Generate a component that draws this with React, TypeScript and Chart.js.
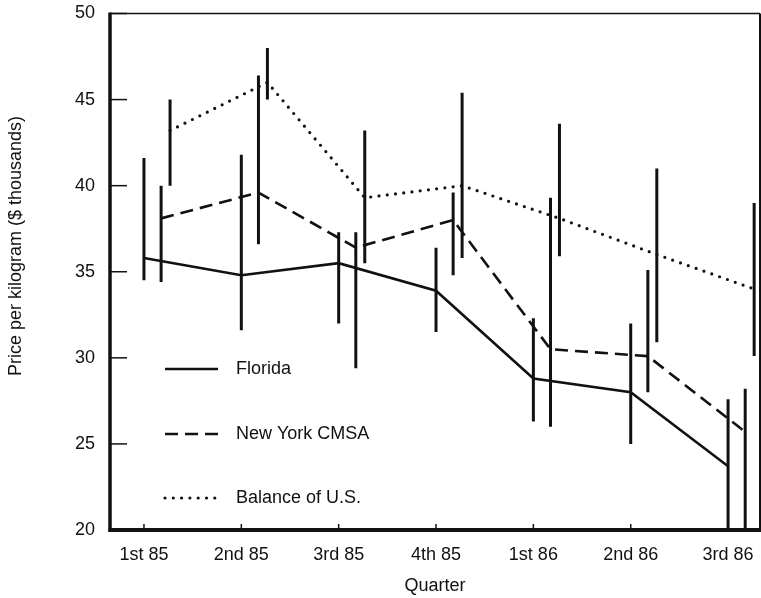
import React, { useEffect, useRef } from 'react';
import { Chart, registerables } from 'chart.js';

Chart.register(...registerables);

// ---- data ----
const quarters = ['1st 85', '2nd 85', '3rd 85', '4th 85', '1st 86', '2nd 86', '3rd 86'];
const seriesNames = ['Florida', 'New York CMSA', 'Balance of U.S.'];

const floridaValues = [35.8, 34.8, 35.5, 33.9, 28.8, 28.0, 23.7];
const floridaLow = [34.5, 31.6, 32.0, 31.5, 26.3, 25.0, 20.0];
const floridaHigh = [41.6, 41.8, 37.3, 36.4, 32.3, 32.0, 27.6];

const newYorkValues = [38.1, 39.6, 36.4, 38.0, 30.5, 30.1, 25.7];
const newYorkLow = [34.4, 36.6, 29.4, 34.8, 26.0, 28.0, 20.0];
const newYorkHigh = [40.0, 46.4, 37.3, 39.6, 39.3, 35.1, 28.2];

const balanceValues = [43.2, 46.0, 39.3, 40.0, 38.1, 36.0, 34.0];
const balanceLow = [40.0, 45.0, 35.5, 35.8, 35.9, 30.9, 30.1];
const balanceHigh = [45.0, 48.0, 43.2, 45.4, 43.6, 41.0, 39.0];

const yTicks = [20, 25, 30, 35, 40, 45, 50];
const yTitle = 'Price per kilogram ($ thousands)';
const xTitle = 'Quarter';

// ---- styling ----
const FONT = "'Liberation Sans', Arial, Helvetica, sans-serif";
const FONT_SIZE = 18;
const INK = '#111111';
const seriesOffsets = [0, 0.176, 0.268];
const seriesDash = [[], [13, 7], [0, 8.3]];
const seriesWidth = [2.6, 2.6, 3.2];

const seriesValues = [floridaValues, newYorkValues, balanceValues];
const seriesLow = [floridaLow, newYorkLow, balanceLow];
const seriesHigh = [floridaHigh, newYorkHigh, balanceHigh];

const decorPlugin = {
  id: 'decor',
  afterDatasetsDraw(chart: any) {
    const { ctx, chartArea, scales } = chart;
    const xs = scales.x;
    const ys = scales.y;
    const { left, right, top, bottom } = chartArea;

    // error bars
    ctx.save();
    ctx.beginPath();
    ctx.rect(left, top, right - left, bottom - top);
    ctx.clip();
    ctx.strokeStyle = INK;
    ctx.lineWidth = 3;
    ctx.lineCap = 'butt';
    ctx.setLineDash([]);
    seriesValues.forEach((vals, s) => {
      vals.forEach((_, i) => {
        const x = xs.getPixelForValue(i + seriesOffsets[s]);
        ctx.beginPath();
        ctx.moveTo(x, ys.getPixelForValue(seriesLow[s][i]));
        ctx.lineTo(x, ys.getPixelForValue(seriesHigh[s][i]));
        ctx.stroke();
      });
    });
    ctx.restore();

    // frame
    ctx.save();
    ctx.strokeStyle = INK;
    ctx.setLineDash([]);
    ctx.lineCap = 'butt';
    ctx.lineWidth = 1.5;
    ctx.beginPath();
    ctx.moveTo(left, top);
    ctx.lineTo(right, top);
    ctx.stroke();
    ctx.lineWidth = 2;
    ctx.beginPath();
    ctx.moveTo(right, top);
    ctx.lineTo(right, bottom);
    ctx.stroke();
    ctx.lineWidth = 3.5;
    ctx.beginPath();
    ctx.moveTo(left, top - 1);
    ctx.lineTo(left, bottom + 2);
    ctx.stroke();
    ctx.lineWidth = 4;
    ctx.beginPath();
    ctx.moveTo(left - 1.5, bottom);
    ctx.lineTo(right + 1, bottom);
    ctx.stroke();

    // inward ticks
    ctx.lineWidth = 1.5;
    yTicks.forEach((v) => {
      if (v === yTicks[0]) return;
      const y = ys.getPixelForValue(v);
      ctx.beginPath();
      ctx.moveTo(left, y);
      ctx.lineTo(left + 17, y);
      ctx.stroke();
    });
    quarters.forEach((_, i) => {
      const x = xs.getPixelForValue(i);
      ctx.beginPath();
      ctx.moveTo(x, bottom);
      ctx.lineTo(x, bottom - 6);
      ctx.stroke();
    });

    // legend
    const legendY = [369, 434, 498];
    seriesNames.forEach((name, s) => {
      const y = legendY[s];
      ctx.save();
      ctx.lineWidth = seriesWidth[s];
      ctx.setLineDash(seriesDash[s]);
      ctx.lineCap = s === 2 ? 'round' : 'butt';
      ctx.beginPath();
      ctx.moveTo(left + 55, y);
      ctx.lineTo(left + 108, y);
      ctx.stroke();
      ctx.restore();
      ctx.fillStyle = INK;
      ctx.font = `${FONT_SIZE}px ${FONT}`;
      ctx.textAlign = 'left';
      ctx.textBaseline = 'middle';
      ctx.fillText(name, left + 126, y);
    });

    // y-axis title
    ctx.save();
    ctx.translate(16, 246);
    ctx.rotate(-Math.PI / 2);
    ctx.fillStyle = INK;
    ctx.font = `${FONT_SIZE}px ${FONT}`;
    ctx.textAlign = 'center';
    ctx.textBaseline = 'middle';
    ctx.fillText(yTitle, 0, 0);
    ctx.restore();
    ctx.restore();
  },
};

export default function App() {
  const canvasRef = useRef<HTMLCanvasElement | null>(null);

  useEffect(() => {
    const canvas = canvasRef.current;
    if (!canvas) return;
    const datasets = seriesNames.map((name, s) => ({
      label: name,
      data: seriesValues[s].map((v, i) => ({ x: i + seriesOffsets[s], y: v })),
      borderColor: INK,
      backgroundColor: INK,
      borderWidth: seriesWidth[s],
      borderDash: seriesDash[s],
      borderCapStyle: s === 2 ? 'round' : 'butt',
      pointRadius: 0,
      pointHoverRadius: 0,
      tension: 0,
      fill: false,
    }));

    const chart = new Chart(canvas, {
      type: 'line',
      data: { datasets } as any,
      options: {
        animation: false,
        responsive: false,
        maintainAspectRatio: false,
        events: [],
        layout: { padding: { top: 13.5, right: 1, left: 0, bottom: 0 } },
        plugins: {
          legend: { display: false },
          tooltip: { enabled: false },
        },
        scales: {
          x: {
            type: 'linear',
            min: -0.349,
            max: 6.328,
            grid: { display: false, drawTicks: false },
            border: { display: false },
            afterBuildTicks: (scale: any) => {
              scale.ticks = quarters.map((_, i) => ({ value: i }));
            },
            afterFit: (scale: any) => {
              scale.height = 68;
              scale.paddingLeft = 0;
              scale.paddingRight = 0;
            },
            ticks: {
              padding: 14,
              autoSkip: false,
              maxRotation: 0,
              color: INK,
              font: { family: FONT, size: FONT_SIZE },
              callback: (v: any) => quarters[Math.round(Number(v))] ?? '',
            },
            title: {
              display: true,
              text: xTitle,
              color: INK,
              font: { family: FONT, size: FONT_SIZE },
              padding: { top: 0, bottom: 1 },
            },
          },
          y: {
            type: 'linear',
            min: 20,
            max: 50,
            grid: { display: false, drawTicks: false },
            border: { display: false },
            afterBuildTicks: (scale: any) => {
              scale.ticks = yTicks.map((v) => ({ value: v }));
            },
            afterFit: (scale: any) => {
              scale.width = 110;
              scale.paddingTop = 0;
              scale.paddingBottom = 0;
            },
            ticks: {
              padding: 15,
              color: INK,
              font: { family: FONT, size: FONT_SIZE },
            },
          },
        },
      } as any,
      plugins: [decorPlugin],
    });
    return () => chart.destroy();
  }, []);

  return (
    <div style={{ position: 'absolute', left: 0, top: 0, width: 761, height: 598, background: '#fff' }}>
      <canvas ref={canvasRef} width={761} height={598} style={{ display: 'block' }} />
    </div>
  );
}
